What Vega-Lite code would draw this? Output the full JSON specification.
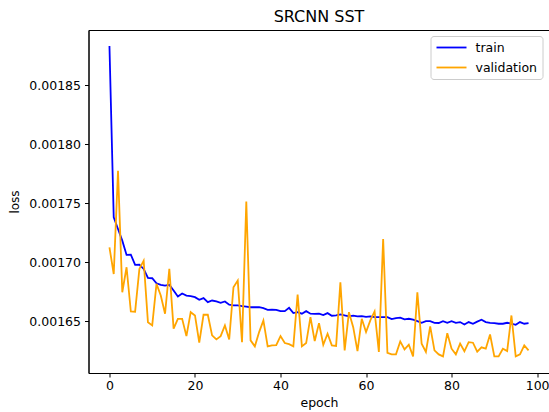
{
  "$schema": "https://vega.github.io/schema/vega-lite/v6.json",
  "width": 461,
  "height": 343,
  "autosize": {"type": "none"},
  "padding": {"left": 88.5, "top": 30, "right": 0, "bottom": 39},
  "title": {"text": "SRCNN SST", "font": "DejaVu Sans", "fontSize": 16, "fontWeight": "normal", "color": "#000", "offset": 5},
  "data": {"values": [
    {"epoch":0,"train":0.0018835,"validation":0.0017126},
    {"epoch":1,"train":0.001738,"validation":0.00169},
    {"epoch":2,"train":0.0017282,"validation":0.0017775},
    {"epoch":3,"train":0.0017183,"validation":0.0016745},
    {"epoch":4,"train":0.0017062,"validation":0.0016957},
    {"epoch":5,"train":0.0017064,"validation":0.0016582},
    {"epoch":6,"train":0.0016977,"validation":0.001658},
    {"epoch":7,"train":0.001698,"validation":0.0016943},
    {"epoch":8,"train":0.0016943,"validation":0.0017013},
    {"epoch":9,"train":0.0016867,"validation":0.001649},
    {"epoch":10,"train":0.0016864,"validation":0.0016464},
    {"epoch":11,"train":0.0016821,"validation":0.0016816},
    {"epoch":12,"train":0.0016808,"validation":0.0016717},
    {"epoch":13,"train":0.0016802,"validation":0.0016563},
    {"epoch":14,"train":0.0016808,"validation":0.0016943},
    {"epoch":15,"train":0.001676,"validation":0.0016436},
    {"epoch":16,"train":0.0016709,"validation":0.001652},
    {"epoch":17,"train":0.0016735,"validation":0.001652},
    {"epoch":18,"train":0.0016717,"validation":0.0016373},
    {"epoch":19,"train":0.0016712,"validation":0.0016576},
    {"epoch":20,"train":0.0016703,"validation":0.0016548},
    {"epoch":21,"train":0.0016681,"validation":0.0016317},
    {"epoch":22,"train":0.0016695,"validation":0.0016554},
    {"epoch":23,"train":0.0016661,"validation":0.0016554},
    {"epoch":24,"train":0.0016675,"validation":0.0016379},
    {"epoch":25,"train":0.0016667,"validation":0.0016345},
    {"epoch":26,"train":0.0016656,"validation":0.0016373},
    {"epoch":27,"train":0.0016667,"validation":0.0016464},
    {"epoch":28,"train":0.0016639,"validation":0.0016345},
    {"epoch":29,"train":0.0016633,"validation":0.0016788},
    {"epoch":30,"train":0.0016633,"validation":0.0016844},
    {"epoch":31,"train":0.0016627,"validation":0.0016322},
    {"epoch":32,"train":0.0016624,"validation":0.0017515},
    {"epoch":33,"train":0.0016618,"validation":0.0016337},
    {"epoch":34,"train":0.0016618,"validation":0.0016286},
    {"epoch":35,"train":0.0016618,"validation":0.0016407},
    {"epoch":36,"train":0.001661,"validation":0.0016506},
    {"epoch":37,"train":0.0016596,"validation":0.0016286},
    {"epoch":38,"train":0.0016598,"validation":0.0016294},
    {"epoch":39,"train":0.0016596,"validation":0.0016297},
    {"epoch":40,"train":0.0016585,"validation":0.0016373},
    {"epoch":41,"train":0.0016585,"validation":0.0016314},
    {"epoch":42,"train":0.0016613,"validation":0.0016305},
    {"epoch":43,"train":0.0016568,"validation":0.0016286},
    {"epoch":44,"train":0.0016576,"validation":0.0016726},
    {"epoch":45,"train":0.0016563,"validation":0.0016286},
    {"epoch":46,"train":0.0016585,"validation":0.0016314},
    {"epoch":47,"train":0.0016563,"validation":0.0016534},
    {"epoch":48,"train":0.0016562,"validation":0.0016331},
    {"epoch":49,"train":0.0016563,"validation":0.0016483},
    {"epoch":50,"train":0.0016551,"validation":0.00163},
    {"epoch":51,"train":0.0016568,"validation":0.0016393},
    {"epoch":52,"train":0.0016546,"validation":0.0016294},
    {"epoch":53,"train":0.0016548,"validation":0.001629},
    {"epoch":54,"train":0.0016557,"validation":0.001683},
    {"epoch":55,"train":0.0016548,"validation":0.0016252},
    {"epoch":56,"train":0.001654,"validation":0.0016576},
    {"epoch":57,"train":0.0016546,"validation":0.0016449},
    {"epoch":58,"train":0.001654,"validation":0.0016246},
    {"epoch":59,"train":0.0016542,"validation":0.001652},
    {"epoch":60,"train":0.0016537,"validation":0.0016407},
    {"epoch":61,"train":0.001654,"validation":0.0016506},
    {"epoch":62,"train":0.0016534,"validation":0.0016582},
    {"epoch":63,"train":0.0016534,"validation":0.0016238},
    {"epoch":64,"train":0.0016534,"validation":0.0017197},
    {"epoch":65,"train":0.0016534,"validation":0.001623},
    {"epoch":66,"train":0.0016517,"validation":0.0016218},
    {"epoch":67,"train":0.0016525,"validation":0.0016218},
    {"epoch":68,"train":0.001653,"validation":0.0016328},
    {"epoch":69,"train":0.0016515,"validation":0.001626},
    {"epoch":70,"train":0.001652,"validation":0.00163},
    {"epoch":71,"train":0.0016512,"validation":0.0016201},
    {"epoch":72,"train":0.00165,"validation":0.0016745},
    {"epoch":73,"train":0.0016486,"validation":0.0016309},
    {"epoch":74,"train":0.00165,"validation":0.0016238},
    {"epoch":75,"train":0.00165,"validation":0.0016455},
    {"epoch":76,"train":0.0016486,"validation":0.0016252},
    {"epoch":77,"train":0.0016484,"validation":0.0016218},
    {"epoch":78,"train":0.00165,"validation":0.0016201},
    {"epoch":79,"train":0.0016486,"validation":0.0016398},
    {"epoch":80,"train":0.00165,"validation":0.0016266},
    {"epoch":81,"train":0.0016486,"validation":0.0016218},
    {"epoch":82,"train":0.0016492,"validation":0.0016309},
    {"epoch":83,"train":0.0016472,"validation":0.0016244},
    {"epoch":84,"train":0.0016492,"validation":0.0016322},
    {"epoch":85,"train":0.0016478,"validation":0.0016317},
    {"epoch":86,"train":0.0016496,"validation":0.0016241},
    {"epoch":87,"train":0.0016512,"validation":0.0016278},
    {"epoch":88,"train":0.0016492,"validation":0.0016266},
    {"epoch":89,"train":0.0016486,"validation":0.0016387},
    {"epoch":90,"train":0.0016483,"validation":0.0016201},
    {"epoch":91,"train":0.0016478,"validation":0.0016201},
    {"epoch":92,"train":0.0016478,"validation":0.0016266},
    {"epoch":93,"train":0.0016486,"validation":0.0016246},
    {"epoch":94,"train":0.0016478,"validation":0.0016548},
    {"epoch":95,"train":0.0016469,"validation":0.0016201},
    {"epoch":96,"train":0.0016492,"validation":0.0016218},
    {"epoch":97,"train":0.0016478,"validation":0.0016294},
    {"epoch":98,"train":0.0016483,"validation":0.0016252}
  ]},
  "transform": [{"fold": ["train", "validation"], "as": ["series", "loss"]}],
  "mark": {"type": "line", "strokeWidth": 1.8, "clip": true},
  "encoding": {
    "x": {"field": "epoch", "type": "quantitative", "scale": {"domain": [-4.9, 102.9], "nice": false, "zero": false},
      "axis": {"title": "epoch", "values": [0, 20, 40, 60, 80, 100], "grid": false, "tickSize": 4, "labelPadding": 2, "titlePadding": 5, "labelFlush": false}},
    "y": {"field": "loss", "type": "quantitative", "scale": {"domain": [0.001606, 0.001897], "nice": false, "zero": false},
      "axis": {"title": "loss", "values": [0.00165, 0.0017, 0.00175, 0.0018, 0.00185], "format": ".5f", "grid": false, "tickSize": 4, "labelPadding": 4, "titleX": -67, "titleFontSize": 12}},
    "color": {"field": "series", "type": "nominal",
      "scale": {"domain": ["train", "validation"], "range": ["#0000ff", "#ffa500"]},
      "legend": {"title": null, "orient": "none", "legendX": 342, "legendY": 6,
        "symbolType": "M-1,0H4.4545", "symbolSize": 121, "symbolStrokeWidth": 1.8,
        "labelFontSize": 12.5, "labelFont": "DejaVu Sans", "labelColor": "#000", "labelOffset": 27,
        "padding": 5, "strokeColor": "#cccccc", "fillColor": "#ffffff", "cornerRadius": 3, "rowPadding": 7}}
  },
  "config": {
    "view": {"stroke": "#000", "strokeWidth": 1},
    "axis": {"domainColor": "#000", "tickColor": "#000", "labelColor": "#000", "titleColor": "#000", "labelFont": "DejaVu Sans", "titleFont": "DejaVu Sans", "labelFontSize": 12.5, "titleFontSize": 12.5, "titleFontWeight": "normal"}
  }
}
